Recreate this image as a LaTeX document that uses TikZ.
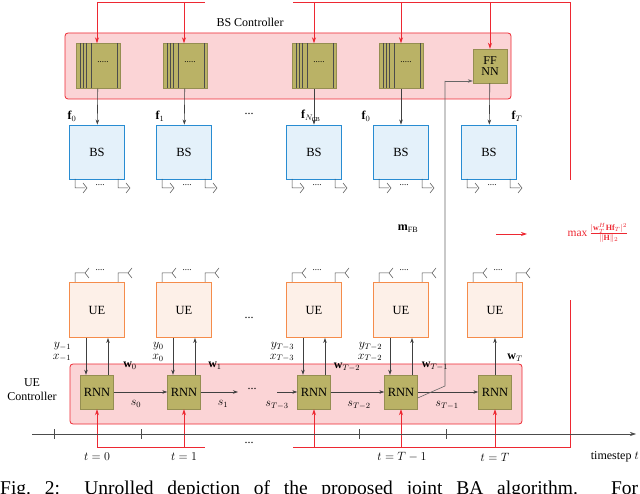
\documentclass[tikz,border=0pt]{standalone}
\usepackage{fontspec}
\setmainfont{Liberation Serif}
\usetikzlibrary{arrows.meta}
\definecolor{rd}{RGB}{237,40,50}
\definecolor{rdfill}{RGB}{251,212,214}
\definecolor{olive}{RGB}{186,178,102}
\definecolor{bsb}{RGB}{40,140,210}
\definecolor{bsf}{RGB}{228,241,250}
\definecolor{ueb}{RGB}{245,140,75}
\definecolor{uef}{RGB}{253,240,232}
\begin{document}
\begin{tikzpicture}[x=1pt,y=-1pt,
 ctrl/.style={draw=rd,fill=rdfill,rounded corners=3pt,line width=0.8pt},
 blk/.style={fill=olive,draw=olive!80!black,minimum width=44pt,minimum height=45pt,inner sep=0},
 ff/.style={fill=olive,draw=olive!80!black,minimum width=34pt,minimum height=34pt,inner sep=0,align=center,font=\fontsize{12}{11}\selectfont},
 rnn/.style={fill=olive,draw=olive!80!black,minimum width=33pt,minimum height=34pt,inner sep=0,font=\fontsize{12.5}{12}\selectfont},
 bs/.style={draw=bsb,fill=bsf,line width=0.9pt,minimum width=55pt,minimum height=54pt,inner sep=0,font=\fontsize{12.5}{12}\selectfont},
 ue/.style={draw=ueb,fill=uef,line width=0.9pt,minimum width=55pt,minimum height=55pt,inner sep=0,font=\fontsize{12.5}{12}\selectfont},
 rarr/.style={draw=rd,line width=0.9pt,-{Stealth[length=6pt,width=4pt]}},
 rl/.style={draw=rd,line width=0.9pt},
 ga/.style={draw=black!75,line width=0.6pt,-{Stealth[length=5pt,width=3.5pt]}},
 lbl/.style={font=\fontsize{12}{12}\selectfont,inner sep=1pt},
 yx/.style={lbl,align=right,font=\fontsize{12}{11.5}\selectfont}]
\useasboundingbox (0,0) rectangle (640,494);
\clip (0,0) rectangle (640,494);
\node[ctrl,minimum width=446pt,minimum height=66pt] (bsc) at (288,66) {};
\node[lbl] (bsct) at (250,22) {BS Controller};
\node[ctrl,minimum width=452pt,minimum height=60pt] (uec) at (296,394) {};
\node[lbl,align=center,font=\fontsize{12}{14}\selectfont] (uect) at (32,390) {UE\\Controller};
\foreach \i/\x in {1/98,2/185,3/314,4/401}{
  \node[blk] (b\i) at (\x,66) {};
  \foreach \d in {-18,-15,-12,-7,19}{\draw[black!70,line width=0.6pt] (\x+\d,43.5) -- (\x+\d,88.5);}
  \node[font=\small,inner sep=0] at (\x+5,62) {.....};
}
\node[ff] (b5) at (490,66) {FF\\NN};
\foreach \i/\x in {1/97,2/184,3/314,4/401,5/489}{
  \node[bs] (bs\i) at (\x,152) {BS};
  \draw[black!70,line width=0.5pt] (\x-22,179) -- (\x-22,188) -- (\x-12,188) (\x-14,183) -- (\x-10,188) -- (\x-14,193);
  \draw[black!70,line width=0.5pt] (\x+21,179) -- (\x+21,188) -- (\x+31,188) (\x+29,183) -- (\x+33,188) -- (\x+29,193);
  \node[font=\small,inner sep=0] at (\x+3,185) {....};
}
\foreach \i in {1,...,5}{\draw[ga] (b\i) -- (bs\i);}
\node[lbl] at (72,116) {$\mathbf f_0$};
\node[lbl] at (160,116) {$\mathbf f_1$};
\node[lbl] at (311,116) {$\mathbf f_{N_{\mathrm{CB}}}$};
\node[lbl] at (366,116) {$\mathbf f_0$};
\node[lbl] at (517,116) {$\mathbf f_T$};
\node[lbl] at (249,114) {...};
\foreach \i/\x in {1/97,2/184,3/314,4/401,5/495}{
  \node[ue] (ue\i) at (\x,310) {UE};
  \draw[black!70,line width=0.5pt] (\x-22,282) -- (\x-22,273) -- (\x-12,273) (\x-8,268) -- (\x-12,273) -- (\x-8,278);
  \draw[black!70,line width=0.5pt] (\x+21,282) -- (\x+21,273) -- (\x+31,273) (\x+35,268) -- (\x+31,273) -- (\x+35,278);
  \node[font=\small,inner sep=0] at (\x+3,270) {....};
  \node[rnn] (r\i) at (\x,392) {RNN};
}
\node[lbl] at (249,318) {...};
\foreach \i in {1,...,4}{
  \draw[ga] ([xshift=-11pt]ue\i.south) -- ([xshift=-11pt]r\i.north);
  \draw[ga] ([xshift=11pt]r\i.north) -- ([xshift=11pt]ue\i.south);
}
\draw[ga] (r5) -- (ue5);
\coordinate (c1) at (238,392);
\coordinate (c2) at (277,392);
\draw[ga] (r1) -- (r2);
\draw[ga] (r2) -- (c1);
\draw[ga] (c2) -- (r3);
\draw[ga] (r3) -- (r4);
\draw[ga] (r4) -- (r5);
\node[lbl] at (252,389) {...};
\node[lbl] at (136,404) {$s_0$};
\node[lbl] at (223,404) {$s_1$};
\node[lbl] at (277,405) {$s_{T-3}$};
\node[lbl] at (359,405) {$s_{T-2}$};
\node[lbl] at (447,405) {$s_{T-1}$};
\node[yx] at (62,352) {$y_{-1}$\\$x_{-1}$};
\node[yx] at (158,352) {$y_{0}$\\$x_{0}$};
\node[yx] at (282,352) {$y_{T-3}$\\$x_{T-3}$};
\node[yx] at (370,352) {$y_{T-2}$\\$x_{T-2}$};
\node[lbl] at (130,366) {$\mathbf w_0$};
\node[lbl] at (215,366) {$\mathbf w_1$};
\node[lbl] at (347,367) {$\mathbf w_{T-2}$};
\node[lbl] at (435,366) {$\mathbf w_{T-1}$};
\node[lbl] at (515,358) {$\mathbf w_T$};
\coordinate (fb1) at (445,386);
\coordinate (fb2) at (445,81);
\draw[black!60,line width=0.6pt] ([yshift=-6pt]r4.east) -- (fb1) -- (fb2);
\draw[ga,black!60] (fb2) -- (b5.west |- fb2);
\node[lbl] at (408,229) {$\mathbf m_{\mathrm{FB}}$};
\coordinate (t1) at (97,2); \coordinate (t2) at (205,2);
\coordinate (t3) at (293,2); \coordinate (t4) at (570,2); \coordinate (t5) at (570,180);
\draw[rl] (t1) -- (t2); \draw[rl] (t3) -- (t4) -- (t5);
\node[lbl] at (246,-1) {...};
\foreach \i/\x in {1/97,2/184,3/314,4/401,5/490}{\draw[rarr] (\x,2) -- (b\i.north -| \x,0);}
\coordinate (u1) at (97,447); \coordinate (u2) at (205,447);
\coordinate (u3) at (293,447); \coordinate (u4) at (570,447); \coordinate (u5) at (570,300);
\draw[rl] (u1) -- (u2); \draw[rl] (u3) -- (u4) -- (u5);
\node[lbl] at (249,443) {...};
\foreach \i/\x in {1/97,2/184,3/314,4/401,5/495}{\draw[rarr] (\x,447) -- (r\i.south);}
\coordinate (o1) at (496,234);
\node[text=rd,inner sep=0,font=\fontsize{11.5}{11}\selectfont] (obj) at (598,233) {$\max\frac{|\mathbf w_T^H\mathbf H\mathbf f_T|^2}{\|\mathbf H\|_2}$};
\draw[rarr] (o1) -- (527,234);
\coordinate (a1) at (32,434); \coordinate (a2) at (636,434);
\draw[black!70,line width=0.6pt,-{Stealth[length=6pt,width=4pt]}] (a1) -- (a2);
\foreach \x in {54,141,359,446}{\draw[black!70,line width=0.5pt] (\x,429) -- (\x,439);}
\node[lbl,font=\fontsize{13}{13}\selectfont] at (97,457) {$t=0$};
\node[lbl,font=\fontsize{13}{13}\selectfont] at (184,457) {$t=1$};
\node[lbl,font=\fontsize{13}{13}\selectfont] at (402,457) {$t=T-1$};
\node[lbl,font=\fontsize{13}{13}\selectfont] at (495,457) {$t=T$};
\node[lbl,anchor=east] at (640,457) {timestep $t$};
\node[anchor=west,inner sep=0,font=\fontsize{19.5}{19}\selectfont] at (0,490) {\makebox[638pt][s]{Fig.~2: Unrolled depiction of the proposed joint BA algorithm. For}};
\end{tikzpicture}
\end{document}
